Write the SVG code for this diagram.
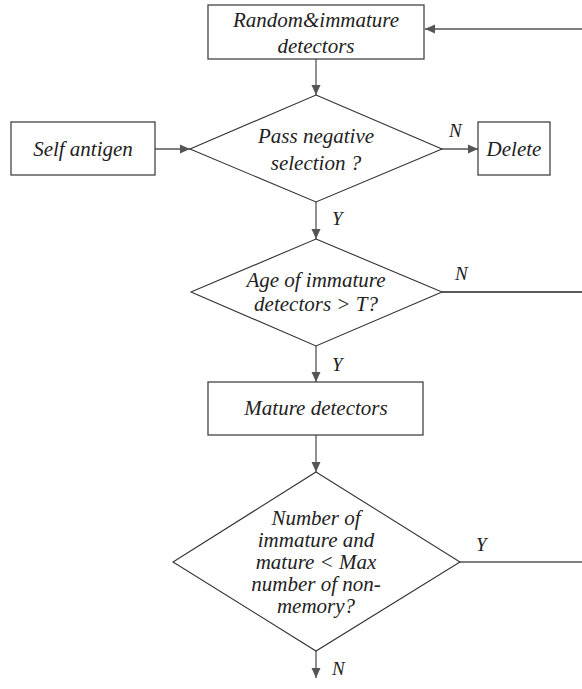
<svg xmlns="http://www.w3.org/2000/svg" width="582" height="689" viewBox="0 0 582 689">
  <style>
    .box { fill: #ffffff; stroke: #444444; stroke-width: 1.3; }
    .dec { fill: #ffffff; stroke: #333333; stroke-width: 1.1; }
    .txt { font-family: 'Liberation Serif', 'DejaVu Serif', serif; font-style: italic; font-size: 21px; fill: #222222; text-anchor: middle; }
    .lbl { font-family: 'Liberation Serif', 'DejaVu Serif', serif; font-style: italic; font-size: 19px; fill: #222222; }
    .edge { fill: none; stroke: #555555; stroke-width: 1.3; }
    .edge-dark { fill: none; stroke: #222222; stroke-width: 1.3; }
  </style>
  <defs>
    <marker id="arrow" viewBox="0 0 10 10" refX="10" refY="5" markerWidth="10" markerHeight="10" markerUnits="userSpaceOnUse" orient="auto">
      <path d="M0,0.5 L10,5 L0,9.5 Z" fill="#555555"/>
    </marker>
  </defs>

  <rect width="582" height="689" fill="#ffffff"/>

  <!-- connectors -->
  <g id="connectors">
    <line class="edge" x1="582" y1="29" x2="425" y2="29" marker-end="url(#arrow)"/>
    <line class="edge" x1="316" y1="59" x2="316" y2="95" marker-end="url(#arrow)"/>
    <line class="edge" x1="155" y1="149" x2="190" y2="149" marker-end="url(#arrow)"/>
    <line class="edge" x1="442" y1="149" x2="478" y2="149" marker-end="url(#arrow)"/>
    <line class="edge" x1="316" y1="202" x2="316" y2="239" marker-end="url(#arrow)"/>
    <line class="edge-dark" x1="442" y1="292" x2="582" y2="292"/>
    <line class="edge" x1="316" y1="346" x2="316" y2="382" marker-end="url(#arrow)"/>
    <line class="edge" x1="316" y1="435" x2="316" y2="472" marker-end="url(#arrow)"/>
    <line class="edge" x1="460" y1="562" x2="582" y2="562"/>
    <line class="edge" x1="316" y1="651" x2="316" y2="678" marker-end="url(#arrow)"/>

    <text class="lbl" x="449" y="137">N</text>
    <text class="lbl" x="332" y="225">Y</text>
    <text class="lbl" x="455" y="280">N</text>
    <text class="lbl" x="332" y="371">Y</text>
    <text class="lbl" x="476" y="551">Y</text>
    <text class="lbl" x="332" y="675">N</text>
  </g>

  <!-- nodes -->
  <g id="random-immature">
    <rect class="box" x="208" y="5" width="216" height="54"/>
    <text class="txt" x="316" y="27">Random&amp;immature</text>
    <text class="txt" x="316" y="53">detectors</text>
  </g>

  <g id="self-antigen">
    <rect class="box" x="11" y="122" width="144" height="53"/>
    <text class="txt" x="83" y="156">Self antigen</text>
  </g>

  <g id="pass-negative">
    <polygon class="dec" points="316,95 442,149 316,202 190,149"/>
    <text class="txt" x="316" y="143">Pass negative</text>
    <text class="txt" x="316" y="170">selection ?</text>
  </g>

  <g id="delete">
    <rect class="box" x="478" y="122" width="72" height="53"/>
    <text class="txt" x="514" y="156">Delete</text>
  </g>

  <g id="age-check">
    <polygon class="dec" points="316,239 442,292 316,346 191,292"/>
    <text class="txt" x="316" y="287">Age of immature</text>
    <text class="txt" x="316" y="311">detectors &gt; T?</text>
  </g>

  <g id="mature">
    <rect class="box" x="208" y="382" width="215" height="53"/>
    <text class="txt" x="316" y="415">Mature detectors</text>
  </g>

  <g id="count-check">
    <polygon class="dec" points="316,472 460,562 316,651 173,562"/>
    <text class="txt" x="316" y="525">Number of</text>
    <text class="txt" x="316" y="547">immature and</text>
    <text class="txt" x="316" y="569">mature &lt; Max</text>
    <text class="txt" x="316" y="591">number of non-</text>
    <text class="txt" x="316" y="613">memory?</text>
  </g>
</svg>
